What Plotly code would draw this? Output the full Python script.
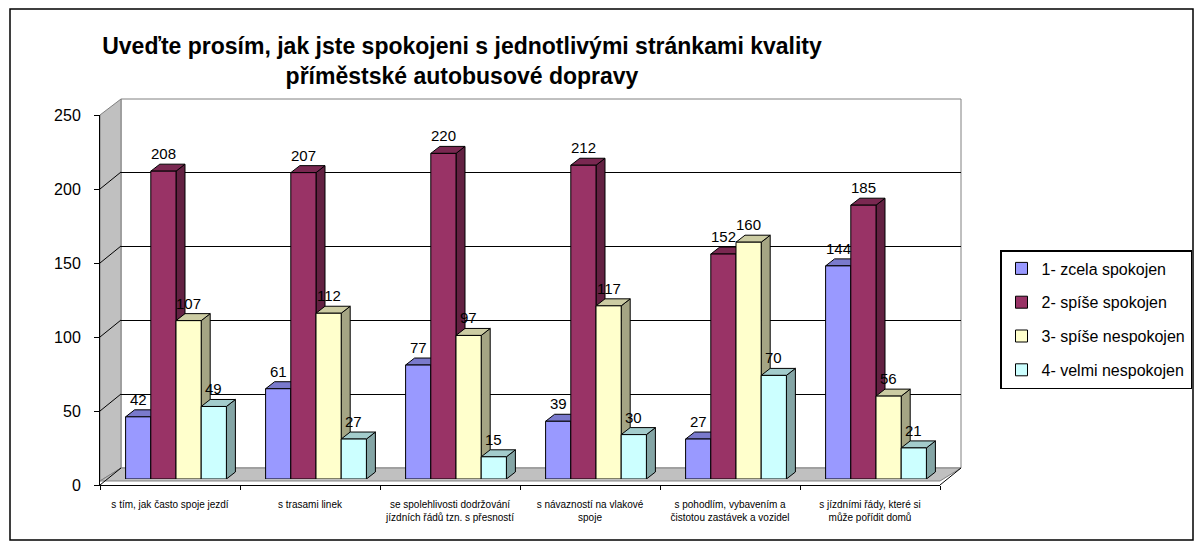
import plotly.graph_objects as go

categories = [
    "s tím, jak často spoje jezdí",
    "s trasami linek",
    "se spolehlivosti dodržování<br>jízdních řádů tzn. s přesností",
    "s návazností na vlakové<br>spoje",
    "s pohodlím, vybavením a<br>čistotou zastávek a vozidel",
    "s jízdními řády, které si<br>může pořídit domů",
]
series_names = ["1- zcela spokojen", "2- spíše spokojen", "3- spíše nespokojen", "4- velmi nespokojen"]
s1 = [42, 61, 77, 39, 27, 144]
s2 = [208, 207, 220, 212, 152, 185]
s3 = [107, 112, 97, 117, 160, 56]
s4 = [49, 27, 15, 30, 70, 21]
colors = ["#9999FF", "#993366", "#FFFFCC", "#CCFFFF"]
y_ticks = [0, 50, 100, 150, 200, 250]
title_text = "Uveďte prosím, jak jste spokojeni s jednotlivými stránkami kvality<br>příměstské autobusové dopravy"

FONT = "Arial, Liberation Sans, sans-serif"
OFF = 8                      # page body margin of the html page
W, H = 1203 - OFF, 547 - OFF  # figure size

# reference-pixel frame of the paper area
RL, RR, RT, RB = 100, 961, 99, 485
PW, PH = RR - RL, RB - RT
YMAX = 250
SCALE = 370 / YMAX            # pixels per unit


def px(x):
    return (x - RL) / PW


def py(y):
    return (RB - y) / PH


def shade(hexcol, f):
    h = hexcol.lstrip("#")
    r, g, b = (int(h[i:i + 2], 16) for i in (0, 2, 4))
    return "#%02X%02X%02X" % (int(r * f), int(g * f), int(b * f))


BW = 0.18          # bar width in category units
G0 = -0.36         # group start offset
DX = 9 / 140       # depth in category units
DY = 7 / SCALE     # depth in value units

all_series = [s1, s2, s3, s4]

fig = go.Figure()
# back wall subplot (gridlines only)
fig.add_trace(go.Scatter(x=categories, y=[None] * len(categories), xaxis="x", yaxis="y",
                         mode="markers", showlegend=False, hoverinfo="skip"))
# bars
for j, (name, vals, col) in enumerate(zip(series_names, all_series, colors)):
    fig.add_trace(go.Bar(
        name=name, x=categories, y=vals, xaxis="x2", yaxis="y2",
        width=BW, offset=G0 + j * BW,
        marker=dict(color=col, line=dict(color="#000000", width=1)),
        cliponaxis=False, legendgroup=name, hoverinfo="skip",
    ))
# front axes subplot (ticks and labels)
fig.add_trace(go.Scatter(x=categories, y=[None] * len(categories), xaxis="x3", yaxis="y3",
                         mode="markers", showlegend=False, hoverinfo="skip"))

shapes = []
# outer frame
shapes.append(dict(type="rect", xref="paper", yref="paper",
                   x0=px(10), x1=px(1193), y0=py(540), y1=py(9),
                   line=dict(color="#000000", width=1.5), fillcolor="rgba(0,0,0,0)", layer="below"))
# back wall outline
shapes.append(dict(type="rect", xref="paper", yref="paper",
                   x0=px(121), x1=px(961), y0=py(468), y1=py(99),
                   line=dict(color="#808080", width=1), fillcolor="white", layer="below"))
# left wall
shapes.append(dict(type="path", xref="paper", yref="paper", layer="below",
                   path="M %f,%f L %f,%f L %f,%f L %f,%f Z" % (
                       px(100), py(481), px(100), py(115), px(121), py(99), px(121), py(468)),
                   fillcolor="#C0C0C0", line=dict(color="#808080", width=1)))
# floor
shapes.append(dict(type="path", xref="paper", yref="paper", layer="below",
                   path="M %f,%f L %f,%f L %f,%f L %f,%f Z" % (
                       px(100), py(481), px(940), py(481), px(961), py(468), px(121), py(468)),
                   fillcolor="#C0C0C0", line=dict(color="#808080", width=1)))
shapes.append(dict(type="line", xref="paper", yref="paper", layer="below",
                   x0=px(940), y0=py(485), x1=px(961), y1=py(468),
                   line=dict(color="#000000", width=1)))
# diagonal tick connectors on the side wall
for v in y_ticks[:-1]:
    shapes.append(dict(type="line", xref="paper", yref="paper", layer="below",
                       x0=px(100), y0=py(485 - v * SCALE), x1=px(121), y1=py(468 - v * SCALE),
                       line=dict(color="#000000", width=1)))

# 3D faces of the bars (in bar-axis data units)
annotations = []
for j, (vals, col) in enumerate(zip(all_series, colors)):
    top_c, side_c = shade(col, 0.8), shade(col, 0.65)
    for i, v in enumerate(vals):
        x0 = i + G0 + j * BW
        x1 = x0 + BW
        shapes.append(dict(type="path", xref="x2", yref="y2", layer="below",
                           path="M %f,%f L %f,%f L %f,%f L %f,%f Z" % (
                               x1, 0, x1 + DX, DY, x1 + DX, v + DY, x1, v),
                           fillcolor=side_c, line=dict(color="#000000", width=1)))
        shapes.append(dict(type="path", xref="x2", yref="y2", layer="below",
                           path="M %f,%f L %f,%f L %f,%f L %f,%f Z" % (
                               x0, v, x1, v, x1 + DX, v + DY, x0 + DX, v + DY),
                           fillcolor=top_c, line=dict(color="#000000", width=1)))
        annotations.append(dict(x=x0 + BW / 2, y=v + DY, xref="x2", yref="y2",
                                text=str(v), showarrow=False, yanchor="bottom", xanchor="center",
                                font=dict(family=FONT, size=15, color="#000000")))

cat_range = [-0.5, len(categories) - 0.5]

fig.update_layout(
    width=W, height=H,
    margin=dict(l=RL - OFF, r=W - (RR - OFF), t=RT - OFF, b=H - (RB - OFF), pad=0, autoexpand=False),
    paper_bgcolor="white", plot_bgcolor="rgba(0,0,0,0)",
    barmode="overlay",
    font=dict(family=FONT, color="#000000"),
    title=dict(
        text="<b>" + title_text + "</b>",
        x=(462 - OFF) / W, xanchor="center", xref="container",
        y=1 - (54 - OFF) / H, yanchor="top", yref="container",
        font=dict(family=FONT, size=23, color="#000000"),
    ),
    legend=dict(
        x=px(1000), y=py(250), xanchor="left", yanchor="top",
        bordercolor="#000000", borderwidth=1.5, bgcolor="white",
        font=dict(family=FONT, size=16, color="#000000"),
        tracegroupgap=10, itemwidth=30,
    ),
    # back wall
    xaxis=dict(domain=[px(121), px(961)], anchor="y", type="category", range=cat_range,
               showgrid=False, showticklabels=False, ticks="", showline=False, zeroline=False),
    yaxis=dict(domain=[py(468), py(99)], anchor="x", range=[0, YMAX], tickvals=y_ticks[1:-1],
               showgrid=True, gridcolor="#000000", gridwidth=1, showticklabels=False,
               ticks="", showline=False, zeroline=False),
    # bars plane
    xaxis2=dict(domain=[px(106), px(946)], anchor="y2", type="category", range=cat_range,
                showgrid=False, showticklabels=False, ticks="", showline=False, zeroline=False),
    yaxis2=dict(domain=[py(479), py(109)], anchor="x2", range=[0, YMAX],
                showgrid=False, showticklabels=False, ticks="", showline=False, zeroline=False),
    # front axes
    xaxis3=dict(domain=[px(100), px(940)], anchor="y3", type="category", range=cat_range,
                showline=True, linecolor="#000000", linewidth=1,
                ticks="outside", tickson="boundaries", ticklen=4, tickcolor="#000000",
                tickfont=dict(family=FONT, size=10, color="#000000"), ticklabelstandoff=10,
                showgrid=False, zeroline=False),
    yaxis3=dict(domain=[py(485), py(115)], anchor="x3", range=[0, YMAX], tickvals=y_ticks,
                showline=True, linecolor="#000000", linewidth=1,
                ticks="outside", ticklen=5, tickcolor="#000000", ticklabelstandoff=10,
                tickfont=dict(family=FONT, size=16, color="#000000"),
                showgrid=False, zeroline=False),
    shapes=shapes,
    annotations=annotations,
)

fig.write_html("out.html")
